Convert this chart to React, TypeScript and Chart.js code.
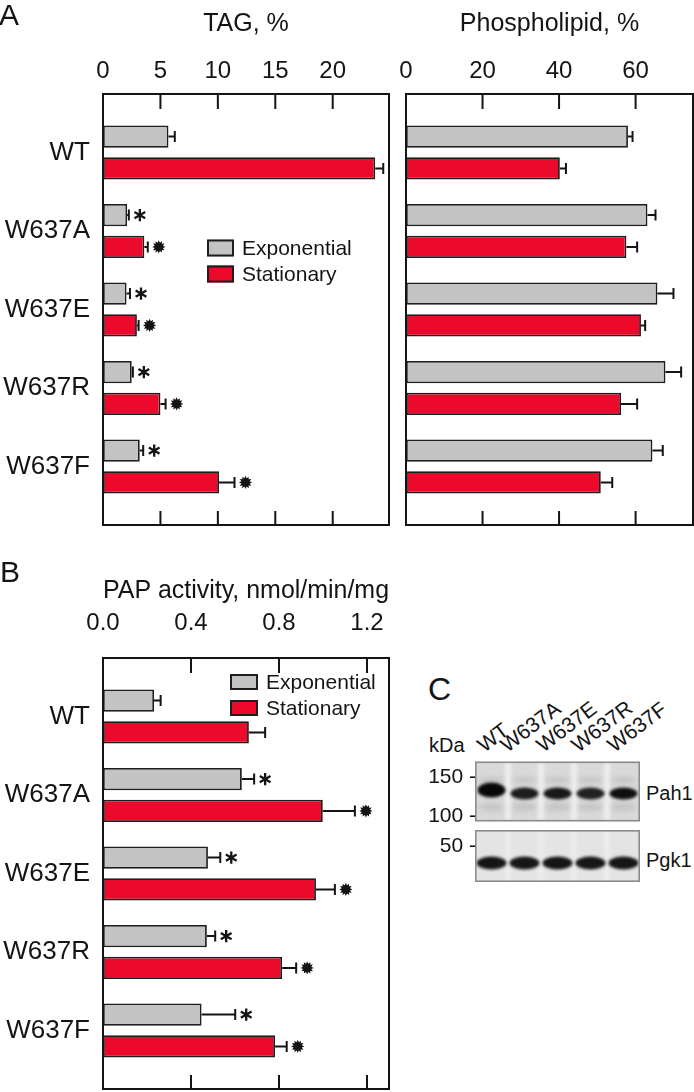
import React, { useEffect, useRef } from 'react';
import { Chart, registerables } from 'chart.js';

Chart.register(...registerables);

// ---------- data ----------
const categories = ['WT', 'W637A', 'W637E', 'W637R', 'W637F'];
const seriesLabels = ['Exponential', 'Stationary'];

const tagTicks = [0, 5, 10, 15, 20];
const tagExponential = [5.7, 2.1, 2.05, 2.5, 3.2];
const tagExponentialErr = [0.55, 0.15, 0.3, 0.1, 0.3];
const tagStationary = [23.7, 3.6, 2.95, 5.0, 10.1];
const tagStationaryErr = [0.7, 0.3, 0.15, 0.45, 1.35];
const tagSignificant = [false, true, true, true, true];

const plTicks = [0, 20, 40, 60];
const plExponential = [58.0, 63.1, 65.7, 67.8, 64.4];
const plExponentialErr = [1.2, 2.1, 4.2, 4.1, 2.7];
const plStationary = [40.2, 57.6, 61.4, 56.2, 50.9];
const plStationaryErr = [1.6, 2.8, 1.1, 4.2, 3.0];
const plSignificant = [false, false, false, false, false];

const papTicks = [0, 0.4, 0.8, 1.2];
const papExponential = [0.232, 0.631, 0.477, 0.472, 0.448];
const papExponentialErr = [0.03, 0.056, 0.056, 0.038, 0.153];
const papStationary = [0.663, 0.999, 0.968, 0.814, 0.782];
const papStationaryErr = [0.074, 0.146, 0.086, 0.064, 0.053];
const papSignificant = [false, true, true, true, true];

const blotLanes = ['WT', 'W637A', 'W637E', 'W637R', 'W637F'];
const markerKDa = ['150', '100', '50'];
const blotProteins = ['Pah1', 'Pgk1'];
const pah1Intensity = [1.0, 0.9, 0.92, 0.88, 0.97];
const pgk1Intensity = [0.95, 0.94, 0.95, 0.94, 0.95];

// ---------- styles ----------
const FONT = '"Liberation Sans", Arial, Helvetica, sans-serif';
const INK = '#141414';
const GRAY = '#c3c3c3';
const RED = '#eb0a2c';
const EDGE = '#1e1e1e';

type Panel = {
  title: string;
  titleSize: number;
  titlePad: number;
  ticks: number[];
  max: number;
  decimals: number;
  tickSize: number;
  tickPad: number;
  exp: number[];
  expErr: number[];
  stat: number[];
  statErr: number[];
  sig: boolean[];
  showCategories: boolean;
  yWidth: number;
  axisHeight: number;
  padding: { left: number; right: number; top: number; bottom: number };
  legend?: { x: number; y: number; w: number; h: number; gap: number; size: number };
};

function drawAsterisk(ctx: CanvasRenderingContext2D, cx: number, cy: number) {
  const r = 6.2;
  ctx.save();
  ctx.strokeStyle = INK;
  ctx.lineWidth = 2.3;
  ctx.lineCap = 'butt';
  ctx.beginPath();
  for (let k = 0; k < 3; k++) {
    const a = Math.PI / 2 + (k * Math.PI) / 3;
    ctx.moveTo(cx + r * Math.cos(a), cy + r * Math.sin(a));
    ctx.lineTo(cx - r * Math.cos(a), cy - r * Math.sin(a));
  }
  ctx.stroke();
  ctx.restore();
}

function drawBurst(ctx: CanvasRenderingContext2D, cx: number, cy: number) {
  const n = 12;
  const ro = 6.6;
  const ri = 4.3;
  ctx.save();
  ctx.fillStyle = INK;
  ctx.beginPath();
  for (let k = 0; k < n * 2; k++) {
    const r = k % 2 === 0 ? ro : ri;
    const a = (k * Math.PI) / n - Math.PI / 2;
    const px = cx + r * Math.cos(a);
    const py = cy + r * Math.sin(a);
    if (k === 0) ctx.moveTo(px, py);
    else ctx.lineTo(px, py);
  }
  ctx.closePath();
  ctx.fill();
  ctx.restore();
}

function createPanel(canvas: HTMLCanvasElement, p: Panel) {
  const overlay = {
    id: 'overlay',
    afterDatasetsDraw(chart: any) {
      const { ctx, chartArea: a } = chart;
      const x = chart.scales.x;
      ctx.save();
      const sets: [number[], number[]][] = [
        [p.exp, p.expErr],
        [p.stat, p.statErr],
      ];
      sets.forEach(([vals, errs], d) => {
        const meta = chart.getDatasetMeta(d);
        meta.data.forEach((el: any, i: number) => {
          const y = el.y;
          const x0 = x.getPixelForValue(vals[i]);
          const x1 = x.getPixelForValue(vals[i] + errs[i]);
          ctx.strokeStyle = INK;
          ctx.lineWidth = 2;
          ctx.beginPath();
          ctx.moveTo(x0, y);
          ctx.lineTo(x1, y);
          ctx.moveTo(x1, y - 5.5);
          ctx.lineTo(x1, y + 5.5);
          ctx.stroke();
          if (p.sig[i]) {
            const cx = x1 + 11;
            if (d === 0) drawAsterisk(ctx, cx, y);
            else drawBurst(ctx, cx, y);
          }
        });
      });
      // frame
      ctx.strokeStyle = INK;
      ctx.lineWidth = 2;
      ctx.strokeRect(a.left, a.top, a.right - a.left, a.bottom - a.top);
      // inward tick marks (top and bottom)
      p.ticks.forEach((v) => {
        if (v <= 0 || v >= p.max) return;
        const px = x.getPixelForValue(v);
        ctx.beginPath();
        ctx.moveTo(px, a.top);
        ctx.lineTo(px, a.top + 15);
        ctx.moveTo(px, a.bottom);
        ctx.lineTo(px, a.bottom - 14);
        ctx.stroke();
      });
      // legend
      if (p.legend) {
        const L = p.legend;
        chart.data.datasets.forEach((ds: any, k: number) => {
          const by = L.y + k * L.gap;
          ctx.fillStyle = ds.backgroundColor;
          ctx.fillRect(L.x, by, L.w, L.h);
          ctx.strokeStyle = EDGE;
          ctx.lineWidth = 2;
          ctx.strokeRect(L.x + 1, by + 1, L.w - 2, L.h - 2);
          ctx.fillStyle = INK;
          ctx.font = `${L.size}px ${FONT}`;
          ctx.textAlign = 'left';
          ctx.textBaseline = 'middle';
          ctx.fillText(ds.label, L.x + L.w + 8, by + L.h / 2 + 1);
        });
      }
      ctx.restore();
    },
  };

  const barCommon = {
    borderColor: EDGE,
    borderWidth: 1.8,
    borderSkipped: false,
    categoryPercentage: 0.81,
    barPercentage: 0.7,
  };

  const noPad = (s: any) => {
    s.paddingTop = 0;
    s.paddingBottom = 0;
    s.paddingLeft = 0;
    s.paddingRight = 0;
  };

  return new Chart(canvas, {
    type: 'bar',
    data: {
      datasets: [
        {
          ...barCommon,
          label: seriesLabels[0],
          backgroundColor: GRAY,
          data: p.exp.map((v, i) => ({ x: v, y: i })),
        },
        {
          ...barCommon,
          label: seriesLabels[1],
          backgroundColor: RED,
          data: p.stat.map((v, i) => ({ x: v, y: i })),
        },
      ],
    } as any,
    options: {
      responsive: false,
      animation: false,
      indexAxis: 'y',
      events: [],
      layout: { padding: p.padding },
      plugins: { legend: { display: false }, tooltip: { enabled: false } },
      scales: {
        x: {
          type: 'linear',
          position: 'top',
          min: 0,
          max: p.max,
          offset: false,
          grid: { display: false, drawTicks: false },
          border: { display: false },
          ticks: {
            autoSkip: false,
            maxRotation: 0,
            padding: p.tickPad,
            color: INK,
            font: { family: FONT, size: p.tickSize },
            callback: (v: any) => Number(v).toFixed(p.decimals),
          },
          afterBuildTicks: (s: any) => {
            s.ticks = p.ticks.map((v) => ({ value: v }));
          },
          afterFit: (s: any) => {
            s.height = p.axisHeight;
            noPad(s);
          },
          title: {
            display: true,
            text: p.title,
            color: INK,
            font: { family: FONT, size: p.titleSize },
            padding: { top: p.titlePad, bottom: 0 },
          },
        },
        y: {
          type: 'linear',
          reverse: true,
          offset: false,
          min: -0.745,
          max: categories.length - 1 + 0.745,
          display: p.showCategories,
          grid: { display: false, drawTicks: false },
          border: { display: false },
          ticks: {
            autoSkip: false,
            padding: 13,
            color: INK,
            font: { family: FONT, size: 26 },
            callback: (v: any) => categories[v] ?? '',
          },
          afterBuildTicks: (s: any) => {
            s.ticks = categories.map((_, i) => ({ value: i }));
          },
          afterFit: (s: any) => {
            s.width = p.yWidth;
            noPad(s);
          },
        },
      },
    } as any,
    plugins: [overlay],
  });
}

function drawBlot(canvas: HTMLCanvasElement) {
  const ctx = canvas.getContext('2d');
  if (!ctx) return;
  const W = 165;
  const laneW = W / blotLanes.length;
  ctx.clearRect(0, 0, canvas.width, canvas.height);

  const panel = (
    y0: number,
    h: number,
    bg: string,
    sep: string,
    draw: (c: CanvasRenderingContext2D) => void
  ) => {
    ctx.save();
    ctx.beginPath();
    ctx.rect(0, y0, W, h);
    ctx.clip();
    ctx.fillStyle = bg;
    ctx.fillRect(0, y0, W, h);
    ctx.filter = 'blur(2px)';
    for (let k = 1; k < blotLanes.length; k++) {
      ctx.fillStyle = sep;
      ctx.fillRect(k * laneW - 2.5, y0, 5, h);
    }
    draw(ctx);
    ctx.restore();
    ctx.strokeStyle = '#8c8c8c';
    ctx.lineWidth = 1.6;
    ctx.strokeRect(0.8, y0 + 0.8, W - 1.6, h - 1.6);
  };

  // Pah1 blot
  panel(0.5, 60, '#d9d9d9', 'rgba(246,246,246,0.9)', (c) => {
    c.filter = 'blur(2.5px)';
    blotLanes.forEach((_, i) => {
      const cx = laneW * (i + 0.5);
      c.fillStyle = 'rgba(150,150,150,0.35)';
      c.beginPath();
      c.ellipse(cx, 19, 13, 2.5, 0, 0, Math.PI * 2);
      c.fill();
      c.fillStyle = 'rgba(160,160,160,0.35)';
      c.beginPath();
      c.ellipse(cx, 46, 13, 4, 0, 0, Math.PI * 2);
      c.fill();
    });
    c.filter = 'blur(1.6px)';
    blotLanes.forEach((_, i) => {
      const cx = laneW * (i + 0.5);
      const k = pah1Intensity[i];
      const isWT = i === 0;
      const cy = isWT ? 29 : 32.5;
      const rh = isWT ? 7.5 : 6;
      c.fillStyle = `rgba(8,8,8,${k})`;
      c.beginPath();
      c.ellipse(cx, cy, 14, rh, 0, 0, Math.PI * 2);
      c.fill();
    });
  });

  // Pgk1 blot
  panel(69, 52, '#e4e4e4', 'rgba(246,246,246,0.6)', (c) => {
    c.filter = 'blur(1.6px)';
    blotLanes.forEach((_, i) => {
      const cx = laneW * (i + 0.5);
      c.fillStyle = `rgba(10,10,10,${pgk1Intensity[i]})`;
      c.beginPath();
      c.ellipse(cx, 102, 15, 6.5, 0, 0, Math.PI * 2);
      c.fill();
    });
  });
}

const Txt = ({
  x,
  baseline,
  size,
  children,
  align = 'left',
  rotate,
}: {
  x: number;
  baseline: number;
  size: number;
  children: React.ReactNode;
  align?: 'left' | 'right';
  rotate?: number;
}) => {
  const asc = 0.8465 * size;
  const style: React.CSSProperties = {
    position: 'absolute',
    top: baseline - asc,
    fontSize: size,
    lineHeight: `${size}px`,
    fontFamily: FONT,
    color: INK,
    whiteSpace: 'nowrap',
  };
  if (align === 'left') style.left = x;
  else {
    style.right = 694 - x;
    style.textAlign = 'right';
  }
  if (rotate) {
    style.transformOrigin = `0px ${asc}px`;
    style.transform = `rotate(${rotate}deg)`;
  }
  return <div style={style}>{children}</div>;
};

export default function App() {
  const refA1 = useRef<HTMLCanvasElement>(null);
  const refA2 = useRef<HTMLCanvasElement>(null);
  const refB = useRef<HTMLCanvasElement>(null);
  const refC = useRef<HTMLCanvasElement>(null);

  useEffect(() => {
    const charts: Chart[] = [];
    if (refA1.current)
      charts.push(
        createPanel(refA1.current, {
          title: 'TAG, %',
          titleSize: 25,
          titlePad: 9,
          ticks: tagTicks,
          max: 24.9,
          decimals: 0,
          tickSize: 24,
          tickPad: 8,
          exp: tagExponential,
          expErr: tagExponentialErr,
          stat: tagStationary,
          statErr: tagStationaryErr,
          sig: tagSignificant,
          showCategories: true,
          yWidth: 103,
          axisHeight: 94,
          padding: { left: 0, right: 11, top: 0, bottom: 15 },
          legend: { x: 207, y: 239.5, w: 27, h: 17, gap: 26, size: 21 },
        })
      );
    if (refA2.current)
      charts.push(
        createPanel(refA2.current, {
          title: 'Phospholipid, %',
          titleSize: 25,
          titlePad: 9,
          ticks: plTicks,
          max: 75,
          decimals: 0,
          tickSize: 24,
          tickPad: 8,
          exp: plExponential,
          expErr: plExponentialErr,
          stat: plStationary,
          statErr: plStationaryErr,
          sig: plSignificant,
          showCategories: false,
          yWidth: 0,
          axisHeight: 94,
          padding: { left: 6, right: 1, top: 0, bottom: 15 },
        })
      );
    if (refB.current)
      charts.push(
        createPanel(refB.current, {
          title: 'PAP activity, nmol/min/mg',
          titleSize: 25,
          titlePad: 16.5,
          ticks: papTicks,
          max: 1.3,
          decimals: 1,
          tickSize: 24,
          tickPad: 20,
          exp: papExponential,
          expErr: papExponentialErr,
          stat: papStationary,
          statErr: papStationaryErr,
          sig: papSignificant,
          showCategories: true,
          yWidth: 103,
          axisHeight: 98,
          padding: { left: 0, right: 11, top: 0, bottom: 3 },
          legend: { x: 230, y: 114, w: 28, h: 16, gap: 26, size: 21 },
        })
      );
    if (refC.current) drawBlot(refC.current);
    return () => charts.forEach((c) => c.destroy());
  }, []);

  const laneLabelX = [484, 507, 543, 578, 614];
  const markerBaselines = [783, 821.5, 851.5];
  const proteinBaselines = [800, 867];

  return (
    <div
      style={{
        position: 'absolute',
        left: 0,
        top: 0,
        width: 694,
        height: 1092,
        background: '#fff',
        overflow: 'hidden',
      }}
    >
      <canvas ref={refA1} width={400} height={540} style={{ position: 'absolute', left: 0, top: 0 }} />
      <canvas ref={refA2} width={294} height={540} style={{ position: 'absolute', left: 400, top: 0 }} />
      <canvas ref={refB} width={400} height={532} style={{ position: 'absolute', left: 0, top: 560 }} />
      <canvas ref={refC} width={166} height={122} style={{ position: 'absolute', left: 475, top: 761 }} />

      <Txt x={-1} baseline={25} size={30}>A</Txt>
      <Txt x={0} baseline={582} size={30}>B</Txt>
      <Txt x={428} baseline={700} size={32}>C</Txt>

      <Txt x={429} baseline={751.5} size={20}>kDa</Txt>
      {blotLanes.map((l, i) => (
        <Txt key={l} x={laneLabelX[i]} baseline={753} size={21} rotate={-37}>
          {l}
        </Txt>
      ))}
      {markerKDa.map((m, i) => (
        <Txt key={m} x={476} baseline={markerBaselines[i]} size={21} align="right">
          {m} -
        </Txt>
      ))}
      {blotProteins.map((p, i) => (
        <Txt key={p} x={646} baseline={proteinBaselines[i]} size={20}>
          {p}
        </Txt>
      ))}
    </div>
  );
}
